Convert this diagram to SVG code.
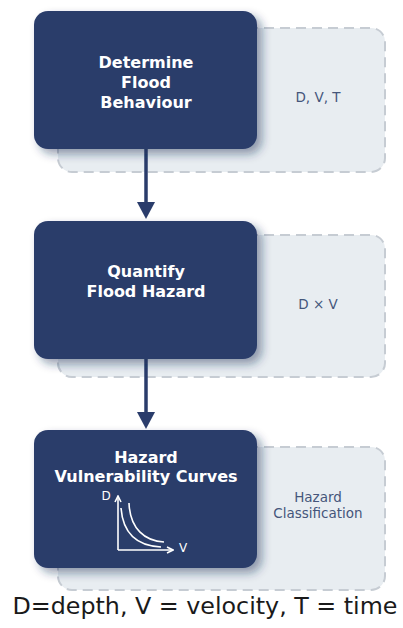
<svg xmlns="http://www.w3.org/2000/svg" width="403" height="628" viewBox="0 0 403 628">
  <style>
    .panel { fill: #e8edf1; stroke: #c6ccd3; stroke-width: 2; stroke-dasharray: 10 6; }
    .step { fill: #2a3c6b; filter: url(#shadow); }
    .title { font-family: "DejaVu Sans", Verdana, sans-serif; font-weight: bold; font-size: 16px; fill: #ffffff; text-anchor: middle; }
    .note { font-family: "DejaVu Sans", Verdana, sans-serif; font-size: 13.5px; fill: #45567b; text-anchor: middle; }
    .axis { font-family: "DejaVu Sans", Verdana, sans-serif; font-size: 12px; fill: #ffffff; text-anchor: middle; }
    .link { stroke: #2a3c6b; stroke-width: 3.5; fill: none; }
    .head { fill: #2a3c6b; }
    .chart { stroke: #ffffff; stroke-width: 1.6; fill: none; }
    .caption { font-family: "DejaVu Sans", Verdana, sans-serif; font-size: 23.5px; fill: #1a1a1a; text-anchor: middle; }
  </style>
  <defs>
    <filter id="shadow" x="-20%" y="-20%" width="150%" height="150%">
      <feDropShadow dx="5" dy="5" stdDeviation="5" flood-color="#1e2d55" flood-opacity="0.45"/>
    </filter>
    <marker id="tip" viewBox="0 0 8 8" refX="7" refY="4" markerWidth="8" markerHeight="8" markerUnits="userSpaceOnUse" orient="auto">
      <path d="M1,1 L7,4 L1,7" fill="none" stroke="#ffffff" stroke-width="1.6"/>
    </marker>
  </defs>

  <!-- dashed side panels -->
  <g id="panel-behaviour">
    <rect class="panel" x="58" y="28" width="327" height="144" rx="14"/>
    <text class="note" x="318" y="102">D, V, T</text>
  </g>
  <g id="panel-hazard">
    <rect class="panel" x="58" y="235" width="327" height="142" rx="14"/>
    <text class="note" x="318" y="309">D × V</text>
  </g>
  <g id="panel-classification">
    <rect class="panel" x="58" y="447" width="327" height="143" rx="14"/>
    <text class="note" x="318" y="502">Hazard</text>
    <text class="note" x="318" y="518">Classification</text>
  </g>

  <!-- connectors -->
  <g id="connectors">
    <line class="link" x1="146" y1="149" x2="146" y2="204"/>
    <polygon class="head" points="137,202 155,202 146,219"/>
    <line class="link" x1="146" y1="359" x2="146" y2="414"/>
    <polygon class="head" points="137,412 155,412 146,429"/>
  </g>

  <!-- process steps -->
  <g id="step-behaviour">
    <rect class="step" x="34" y="11" width="223" height="138" rx="14"/>
    <text class="title" x="146" y="68">Determine</text>
    <text class="title" x="146" y="88">Flood</text>
    <text class="title" x="146" y="108">Behaviour</text>
  </g>
  <g id="step-hazard">
    <rect class="step" x="34" y="221" width="223" height="138" rx="14"/>
    <text class="title" x="146" y="277">Quantify</text>
    <text class="title" x="146" y="297">Flood Hazard</text>
  </g>
  <g id="step-curves">
    <rect class="step" x="34" y="430" width="223" height="138" rx="14"/>
    <text class="title" x="146" y="463">Hazard</text>
    <text class="title" x="146" y="482">Vulnerability Curves</text>
    <!-- depth-velocity chart -->
    <line class="chart" x1="118" y1="550" x2="118" y2="496" marker-end="url(#tip)"/>
    <line class="chart" x1="118" y1="550" x2="173" y2="550" marker-end="url(#tip)"/>
    <path class="chart" d="M121,508 C123,534 138,546 161,547"/>
    <path class="chart" d="M129,503 C130,529 145,541 164,542"/>
    <text class="axis" x="106" y="500">D</text>
    <text class="axis" x="183" y="552">V</text>
  </g>

  <text class="caption" x="205" y="614" textLength="385" lengthAdjust="spacingAndGlyphs">D=depth, V = velocity, T = time</text>
</svg>
